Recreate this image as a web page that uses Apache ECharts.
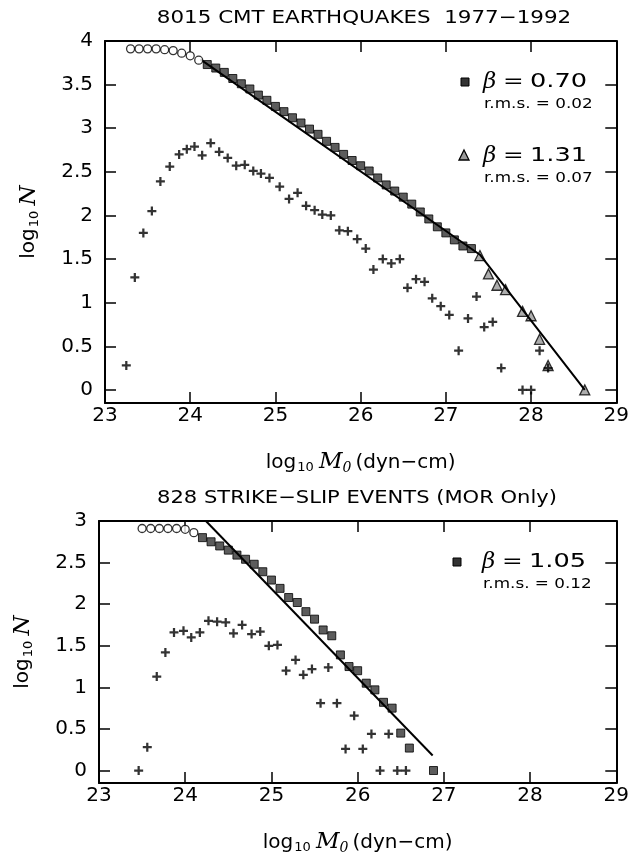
<!DOCTYPE html>
<html><head><meta charset="utf-8">
<script src="https://cdn.jsdelivr.net/npm/echarts@6/dist/echarts.min.js"></script>
<style>html,body{margin:0;padding:0;background:#fff}#c{width:632px;height:856px}</style>
</head><body><div id="c"></div>
<script>
// ---------- data ----------
const xTicks = [23, 24, 25, 26, 27, 28, 29];
const yTicksTop = [0, 0.5, 1, 1.5, 2, 2.5, 3, 3.5, 4];
const yTicksBot = [0, 0.5, 1, 1.5, 2, 2.5, 3];

// top panel: 8015 CMT earthquakes
const topCircleX = [23.3, 23.4, 23.5, 23.6, 23.7, 23.8, 23.9, 24.0, 24.1];
const topCircleY = [3.91, 3.91, 3.91, 3.91, 3.90, 3.89, 3.86, 3.83, 3.78];
const topSquareX = [24.2, 24.3, 24.4, 24.5, 24.6, 24.7, 24.8, 24.9, 25.0, 25.1, 25.2, 25.3, 25.4, 25.5, 25.6, 25.7,
  25.8, 25.9, 26.0, 26.1, 26.2, 26.3, 26.4, 26.5, 26.6, 26.7, 26.8, 26.9, 27.0, 27.1, 27.2, 27.3];
const topSquareY = [3.73, 3.69, 3.64, 3.57, 3.51, 3.45, 3.38, 3.32, 3.25, 3.19, 3.12, 3.06, 2.99, 2.93, 2.85, 2.78,
  2.70, 2.63, 2.57, 2.51, 2.43, 2.35, 2.28, 2.21, 2.13, 2.04, 1.96, 1.87, 1.80, 1.72, 1.65, 1.62];
const topTriX = [27.4, 27.5, 27.6, 27.7, 27.9, 28.0, 28.1, 28.2, 28.63];
const topTriY = [1.54, 1.33, 1.20, 1.15, 0.90, 0.85, 0.58, 0.28, 0.0];
const topCrossX = [23.25, 23.35, 23.45, 23.55, 23.65, 23.76, 23.87, 23.96, 24.05, 24.14, 24.24, 24.34, 24.44, 24.54,
  24.64, 24.74, 24.83, 24.93, 25.05, 25.16, 25.26, 25.36, 25.46, 25.55, 25.65, 25.75, 25.85, 25.96, 26.06, 26.15,
  26.26, 26.36, 26.46, 26.55, 26.65, 26.75, 26.84, 26.94, 27.04, 27.15, 27.26, 27.36, 27.45, 27.55, 27.65, 27.9, 28.0, 28.1, 28.2];
const topCrossY = [0.28, 1.29, 1.80, 2.05, 2.39, 2.56, 2.70, 2.76, 2.79, 2.69, 2.83, 2.73, 2.66, 2.57,
  2.58, 2.51, 2.48, 2.43, 2.33, 2.19, 2.26, 2.11, 2.06, 2.01, 2.00, 1.83, 1.82, 1.73, 1.62, 1.38,
  1.50, 1.45, 1.50, 1.17, 1.27, 1.24, 1.05, 0.96, 0.86, 0.45, 0.82, 1.07, 0.72, 0.78, 0.25, 0.0, 0.0, 0.45, 0.25];
const topFitX = [24.12, 27.4, 28.63];
const topFitY = [3.79, 1.55, 0.0];

// bottom panel: 828 strike-slip events (MOR only)
const botCircleX = [23.5, 23.6, 23.7, 23.8, 23.9, 24.0, 24.1];
const botCircleY = [2.91, 2.91, 2.91, 2.91, 2.91, 2.90, 2.86];
const botSquareX = [24.2, 24.3, 24.4, 24.5, 24.6, 24.7, 24.8, 24.9, 25.0, 25.1, 25.2, 25.3, 25.4, 25.5, 25.6,
  25.7, 25.8, 25.9, 26.0, 26.1, 26.2, 26.3, 26.4, 26.5, 26.6, 26.88];
const botSquareY = [2.80, 2.75, 2.70, 2.65, 2.59, 2.54, 2.48, 2.39, 2.29, 2.19, 2.08, 2.02, 1.91, 1.82, 1.69,
  1.62, 1.39, 1.25, 1.20, 1.05, 0.97, 0.82, 0.75, 0.45, 0.27, 0.0];
const botCrossX = [23.46, 23.56, 23.67, 23.77, 23.87, 23.98, 24.07, 24.17, 24.27, 24.37, 24.47, 24.56, 24.66, 24.77,
  24.87, 24.97, 25.07, 25.17, 25.28, 25.37, 25.47, 25.57, 25.66, 25.76, 25.86, 25.96, 26.06, 26.16, 26.26, 26.36, 26.46, 26.56];
const botCrossY = [0.0, 0.28, 1.13, 1.42, 1.66, 1.68, 1.60, 1.66, 1.80, 1.79, 1.78, 1.65, 1.75, 1.64,
  1.67, 1.50, 1.51, 1.20, 1.33, 1.15, 1.22, 0.81, 1.24, 0.81, 0.26, 0.66, 0.26, 0.44, 0.0, 0.44, 0.0, 0.0];
const botFitX = [24.24, 26.87];
const botFitY = [3.0, 0.18];

// ---------- chart ----------
const zip = (xs, ys) => xs.map((x, i) => [x, ys[i]]);
const FONT = 'DejaVu Sans';
const SERIF = 'DejaVu Serif';
const CROSS = 'path://M3,0H5V3H8V5H5V8H3V5H0V3H3Z';

const grids = [
  { left: 105, top: 41, width: 519, height: 362 },
  { left: 99, top: 521, width: 520, height: 277 }
];

const axisRich = {
  t: { fontSize: 20, fontFamily: FONT, color: '#000' },
  s: { fontSize: 13, fontFamily: FONT, color: '#000', padding: [11, 2, 0, 1] },
  m: { fontSize: 23, fontFamily: SERIF, fontStyle: 'italic', color: '#000' },
  ms: { fontSize: 14, fontFamily: SERIF, fontStyle: 'italic', color: '#000', padding: [11, 4, 0, 0] }
};

function xAxes(gi) {
  const base = {
    type: 'value', gridIndex: gi, min: 23, max: 29, interval: 1,
    axisLine: { show: true, onZero: false, lineStyle: { color: '#000', width: 2 } },
    axisTick: { show: true, inside: true, length: 11, lineStyle: { color: '#000', width: 1.5 } },
    splitLine: { show: false }
  };
  return [
    Object.assign({}, base, {
      position: 'bottom',
      axisLabel: { show: true, color: '#000', fontSize: 20, fontFamily: FONT, margin: 3 },
      name: '{t|log}{s|10} {m|M}{ms|0}{t|(dyn\u2212cm)}',
      nameLocation: 'middle', nameGap: 47,
      nameTextStyle: { rich: axisRich }
    }),
    Object.assign({}, base, { position: 'top', axisLabel: { show: false } })
  ];
}

function yAxes(gi, max, ticks) {
  const base = {
    type: 'value', gridIndex: gi, min: -0.15, max: max,
    axisLine: { show: true, onZero: false, lineStyle: { color: '#000', width: 2 } },
    axisTick: { show: true, inside: true, length: 11, customValues: ticks, lineStyle: { color: '#000', width: 1.5 } },
    splitLine: { show: false }
  };
  return [
    Object.assign({}, base, {
      position: 'left',
      axisLabel: { show: true, customValues: ticks, color: '#000', fontSize: 20, fontFamily: FONT, margin: 12,
        formatter: v => String(v) },
      name: '{t|log}{s|10} {m|N}',
      nameLocation: 'middle', nameGap: 64, nameRotate: 90,
      nameTextStyle: { rich: axisRich }
    }),
    Object.assign({}, base, { position: 'right', axisLabel: { show: false } })
  ];
}

function panelSeries(gi, circles, squares, tris, crosses, fit) {
  const xi = gi * 2, yi = gi * 2;
  const s = [
    { type: 'line', xAxisIndex: xi, yAxisIndex: yi, data: fit, symbol: 'none', silent: true,
      lineStyle: { color: '#000', width: 2 }, z: 3 },
    { type: 'scatter', xAxisIndex: xi, yAxisIndex: yi, data: circles, symbol: 'circle', symbolSize: 8,
      itemStyle: { color: '#fff', borderColor: '#000', borderWidth: 1.3 }, z: 4 },
    { type: 'scatter', xAxisIndex: xi, yAxisIndex: yi, data: squares, symbol: 'rect', symbolSize: 8,
      itemStyle: { color: '#333', borderColor: '#000', borderWidth: 1 }, z: 2 },
    { type: 'scatter', xAxisIndex: xi, yAxisIndex: yi, data: crosses, symbol: CROSS, symbolSize: 9,
      itemStyle: { color: '#000' }, z: 4 }
  ];
  if (tris) s.push({ type: 'scatter', xAxisIndex: xi, yAxisIndex: yi, data: tris, symbol: 'triangle', symbolSize: 10,
    itemStyle: { color: '#999', borderColor: '#000', borderWidth: 1.3 }, z: 2 });
  return s;
}

function legend(x, y, val, rms) {
  return [
    { type: 'text', x: x, y: y, style: { text: '\u03B2', fontSize: 23, fontFamily: SERIF, fontStyle: 'italic',
      fill: '#000', verticalAlign: 'middle' } },
    { type: 'text', x: x + 20, y: y, scaleX: 1.3, style: { text: '=', fontSize: 19, fontFamily: FONT,
      fill: '#000', verticalAlign: 'middle' } },
    { type: 'text', x: x + 47, y: y, scaleX: 1.35, style: { text: val, fontSize: 19, fontFamily: FONT,
      fill: '#000', verticalAlign: 'middle' } },
    { type: 'text', x: x + 1, y: y + 22, scaleX: 1.2, style: { text: 'r.m.s. = ' + rms, fontSize: 14, fontFamily: FONT,
      fill: '#000', verticalAlign: 'middle' } }
  ];
}

const chart = echarts.init(document.getElementById('c'), null, { renderer: 'canvas' });
chart.setOption({
  backgroundColor: '#fff',
  animation: false,
  grid: grids,
  xAxis: xAxes(0).concat(xAxes(1)),
  yAxis: yAxes(0, 4, yTicksTop).concat(yAxes(1, 3, yTicksBot)),
  series: panelSeries(0, zip(topCircleX, topCircleY), zip(topSquareX, topSquareY), zip(topTriX, topTriY),
      zip(topCrossX, topCrossY), zip(topFitX, topFitY))
    .concat(panelSeries(1, zip(botCircleX, botCircleY), zip(botSquareX, botSquareY), null,
      zip(botCrossX, botCrossY), zip(botFitX, botFitY))),
  graphic: [
    { type: 'text', x: 364, y: 18, scaleX: 1.19, style: { text: '8015 CMT EARTHQUAKES  1977\u22121992', fontSize: 18,
      fontFamily: FONT, fill: '#000', align: 'center', verticalAlign: 'middle' } },
    { type: 'text', x: 357, y: 498, scaleX: 1.17, style: { text: '828 STRIKE\u2212SLIP EVENTS (MOR Only)', fontSize: 18,
      fontFamily: FONT, fill: '#000', align: 'center', verticalAlign: 'middle' } },
    { type: 'rect', shape: { x: 461, y: 78, width: 8, height: 8 }, style: { fill: '#333', stroke: '#000', lineWidth: 1 } },
    { type: 'polygon', shape: { points: [[464, 150], [469, 160], [459, 160]] }, style: { fill: '#999', stroke: '#000', lineWidth: 1.3 } },
    { type: 'rect', shape: { x: 453, y: 558, width: 8, height: 8 }, style: { fill: '#333', stroke: '#000', lineWidth: 1 } }
  ].concat(legend(483, 82, '0.70', '0.02'), legend(483, 156, '1.31', '0.07'), legend(482, 562, '1.05', '0.12'))
});
</script>
</body></html>
